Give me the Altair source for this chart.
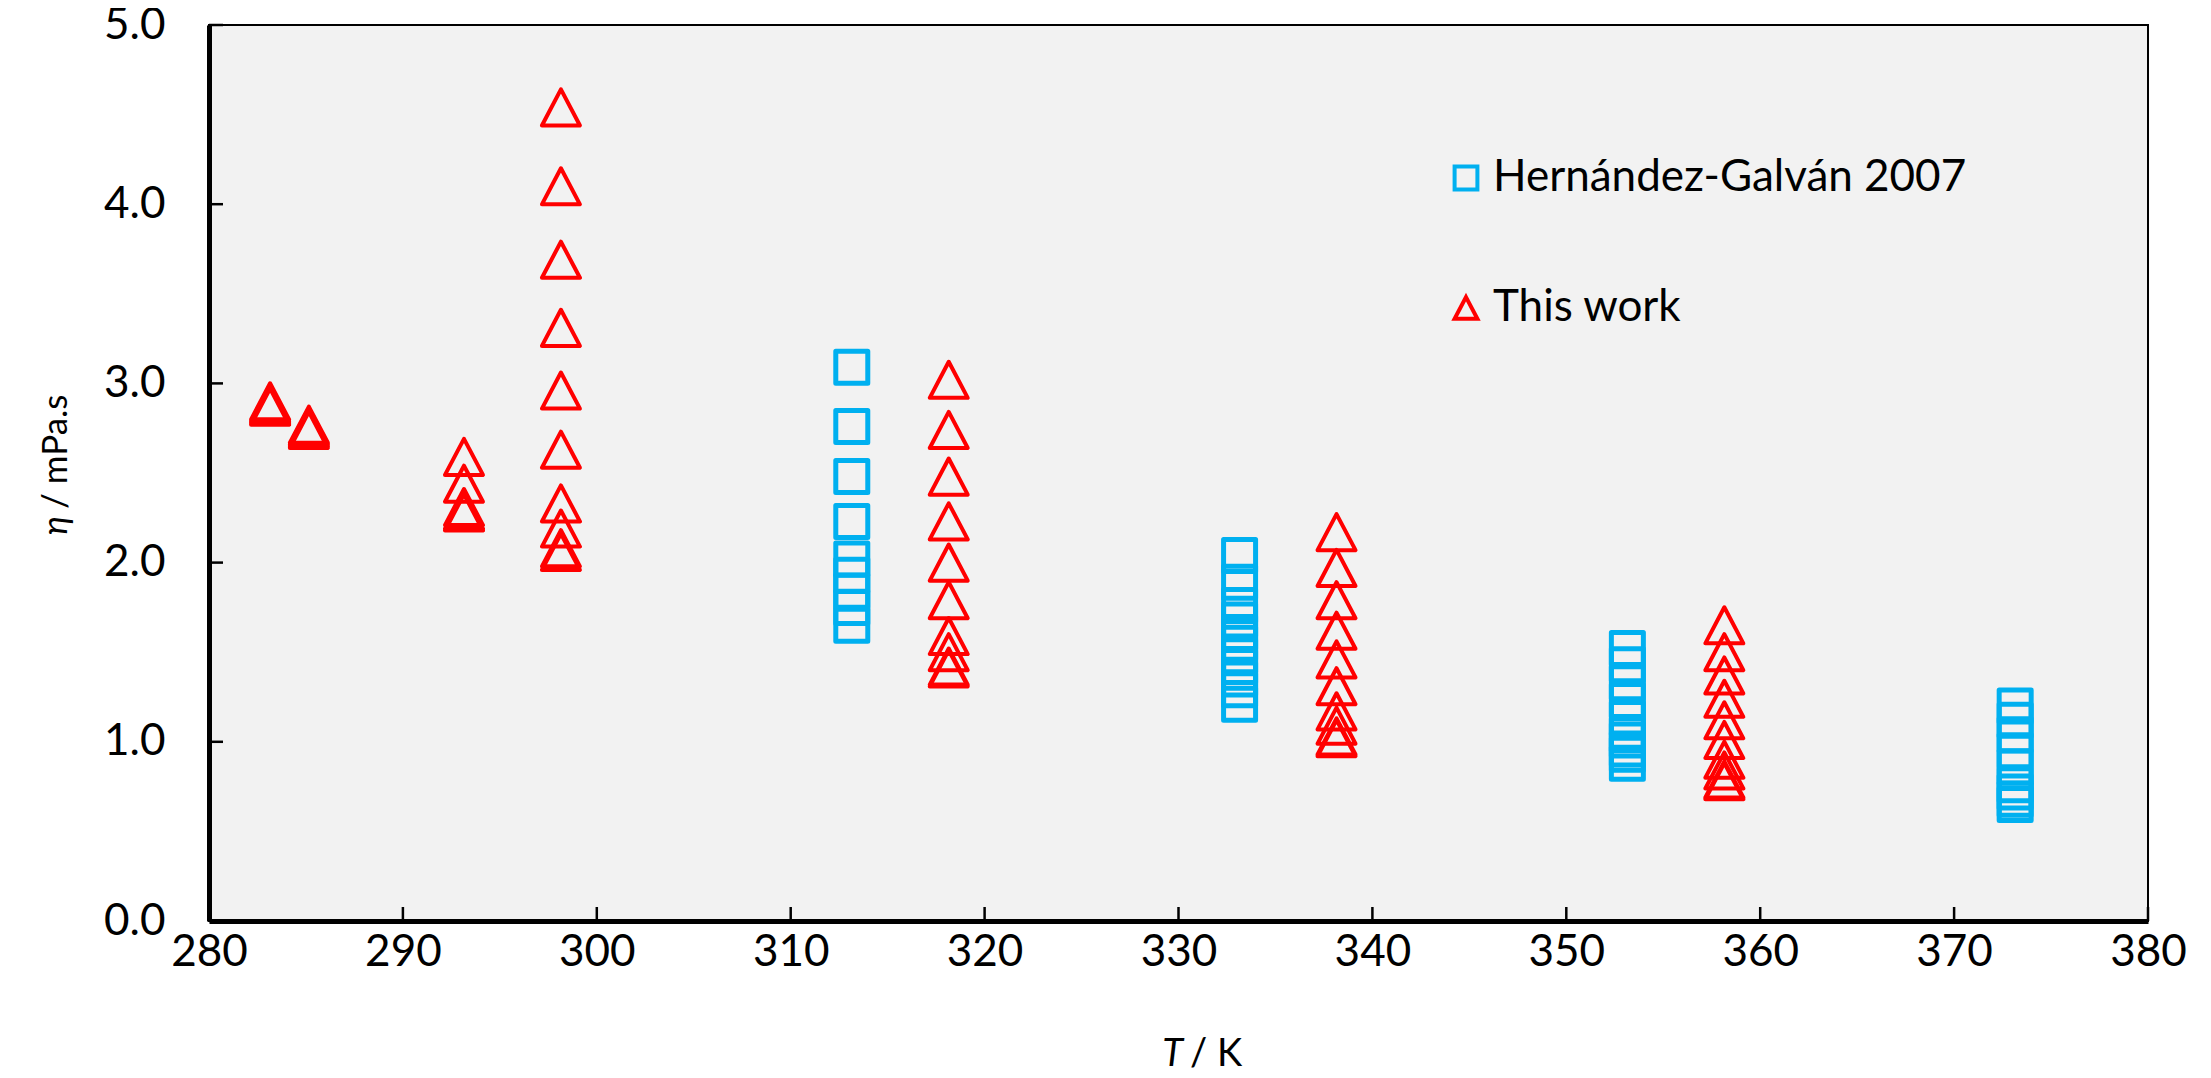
import altair as alt
import pandas as pd

# ---- data ----
hg_T = [313.15, 333.15, 353.15, 373.15]
hg_eta_313 = [3.09, 2.76, 2.48, 2.23, 2.02, 1.93, 1.84, 1.75, 1.65]
hg_eta_333 = [2.04, 1.89, 1.76, 1.68, 1.61, 1.55, 1.48, 1.42, 1.35, 1.29, 1.21]
hg_eta_353 = [1.52, 1.43, 1.33, 1.23, 1.13, 1.04, 1.01, 0.96, 0.93, 0.88]
hg_eta_373 = [1.20, 1.12, 1.04, 0.95, 0.86, 0.76, 0.72, 0.68, 0.65]

tw_T = [283.15, 285.15, 293.15, 298.15, 318.15, 338.15, 358.15]
tw_eta_283 = [2.90, 2.89, 2.88, 2.87]
tw_eta_285 = [2.77, 2.76, 2.75, 2.74]
tw_eta_293 = [2.59, 2.44, 2.31, 2.29, 2.28]
tw_eta_298 = [4.54, 4.10, 3.69, 3.31, 2.96, 2.63, 2.33, 2.19, 2.08, 2.06]
tw_eta_318 = [3.02, 2.74, 2.48, 2.23, 2.00, 1.79, 1.59, 1.50, 1.42, 1.41]
tw_eta_338 = [2.17, 1.97, 1.79, 1.62, 1.46, 1.31, 1.17, 1.09, 1.03, 1.02]
tw_eta_358 = [1.65, 1.50, 1.37, 1.24, 1.12, 1.01, 0.90, 0.84, 0.79, 0.78]

series_names = ["Hernández-Galván 2007", "This work"]
x_ticks = [280, 290, 300, 310, 320, 330, 340, 350, 360, 370, 380]
y_ticks = [0, 1, 2, 3, 4, 5]

rows = []
for t, vals in zip(hg_T, [hg_eta_313, hg_eta_333, hg_eta_353, hg_eta_373]):
    for v in vals:
        rows.append({"T": t, "eta": v, "series": series_names[0]})
for t, vals in zip(tw_T, [tw_eta_283, tw_eta_285, tw_eta_293, tw_eta_298,
                          tw_eta_318, tw_eta_338, tw_eta_358]):
    for v in vals:
        rows.append({"T": t, "eta": v, "series": series_names[1]})
df = pd.DataFrame(rows)

W, H = 1939, 896
FONT = "Lato"
SQUARE = "M-1,-1L1,-1L1,1L-1,1Z"
TRI = "M0,-0.95L1,0.95L-1,0.95Z"

xs = alt.Scale(domain=[280, 380], nice=False, zero=False)
ys = alt.Scale(domain=[0, 5], nice=False)

color = alt.Color("series:N",
                  scale=alt.Scale(domain=series_names, range=["#00B0F0", "#FF0000"]),
                  legend=alt.Legend(title=None, orient="none", legendX=1235, legendY=131,
                                    labelFont=FONT, labelFontSize=44, labelColor="#000",
                                    labelLimit=0,
                                    symbolSize=520, symbolStrokeWidth=4,
                                    rowPadding=86, labelOffset=5, padding=0))
shape = alt.Shape("series:N",
                  scale=alt.Scale(domain=series_names, range=[SQUARE, TRI]),
                  legend=None)

xenc = alt.X("T:Q", scale=xs,
             axis=alt.Axis(values=x_ticks, format="d", title=None, grid=False, ticks=False,
                           labelFont=FONT, labelFontSize=44, labelPadding=9, labelFlush=False,
                           labelColor="#000", domainColor="#000", domainWidth=5))
yenc = alt.Y("eta:Q", scale=ys,
             axis=alt.Axis(values=y_ticks, format=".1f", title=None, grid=False, ticks=False,
                           labelFont=FONT, labelFontSize=44, labelPadding=44, labelFlush=False,
                           labelColor="#000", domainColor="#000", domainWidth=5))

base = alt.Chart(df)
hg = base.transform_filter(alt.datum.series == series_names[0]).mark_point(
    filled=False, size=1024, strokeWidth=5, strokeJoin="round", opacity=1
).encode(x=xenc, y=yenc, color=color, shape=shape)
tw = base.transform_filter(alt.datum.series == series_names[1]).mark_point(
    filled=False, size=1444, strokeWidth=4, strokeJoin="round", opacity=1
).encode(x=xenc, y=yenc, color=color, shape=shape)

xt = pd.DataFrame({"v": x_ticks})
yt = pd.DataFrame({"v": y_ticks})
xtick = alt.Chart(xt).mark_rule(color="#000", strokeWidth=2.5).encode(
    x=alt.X("v:Q", scale=xs), y=alt.value(H - 14), y2=alt.value(H))
ytick = alt.Chart(yt).mark_rule(color="#000", strokeWidth=2.5).encode(
    y=alt.Y("v:Q", scale=ys), x=alt.value(0), x2=alt.value(14))

# axis titles with italic symbols
tx1 = alt.Chart(pd.DataFrame({"t": ["T"]})).mark_text(
    font=FONT, fontSize=38, fontStyle="italic", align="right", baseline="middle", color="#000"
).encode(text="t:N", x=alt.value(974), y=alt.value(1030))
tx2 = alt.Chart(pd.DataFrame({"t": ["/ K"]})).mark_text(
    font=FONT, fontSize=38, align="left", baseline="middle", color="#000"
).encode(text="t:N", x=alt.value(981), y=alt.value(1030))
ty1 = alt.Chart(pd.DataFrame({"t": ["η"]})).mark_text(
    font=FONT, fontSize=35, fontStyle="italic", align="left", baseline="middle", angle=270,
    color="#000"
).encode(text="t:N", x=alt.value(-153), y=alt.value(510))
ty2 = alt.Chart(pd.DataFrame({"t": ["/ mPa.s"]})).mark_text(
    font=FONT, fontSize=35, align="left", baseline="middle", angle=270, color="#000"
).encode(text="t:N", x=alt.value(-153), y=alt.value(484))

chart = alt.layer(hg, tw, xtick, ytick, tx1, tx2, ty1, ty2).resolve_scale(
    color="shared", shape="shared"
).properties(
    width=W, height=H,
    autosize=alt.AutoSizeParams(type="none"),
    padding={"left": 201, "top": 17, "right": 50, "bottom": 152},
    background="#FFFFFF",
).configure_view(fill="#F2F2F2", stroke="#000", strokeWidth=2)

chart.save("out.html", embed_options={"renderer": "svg", "actions": False})
